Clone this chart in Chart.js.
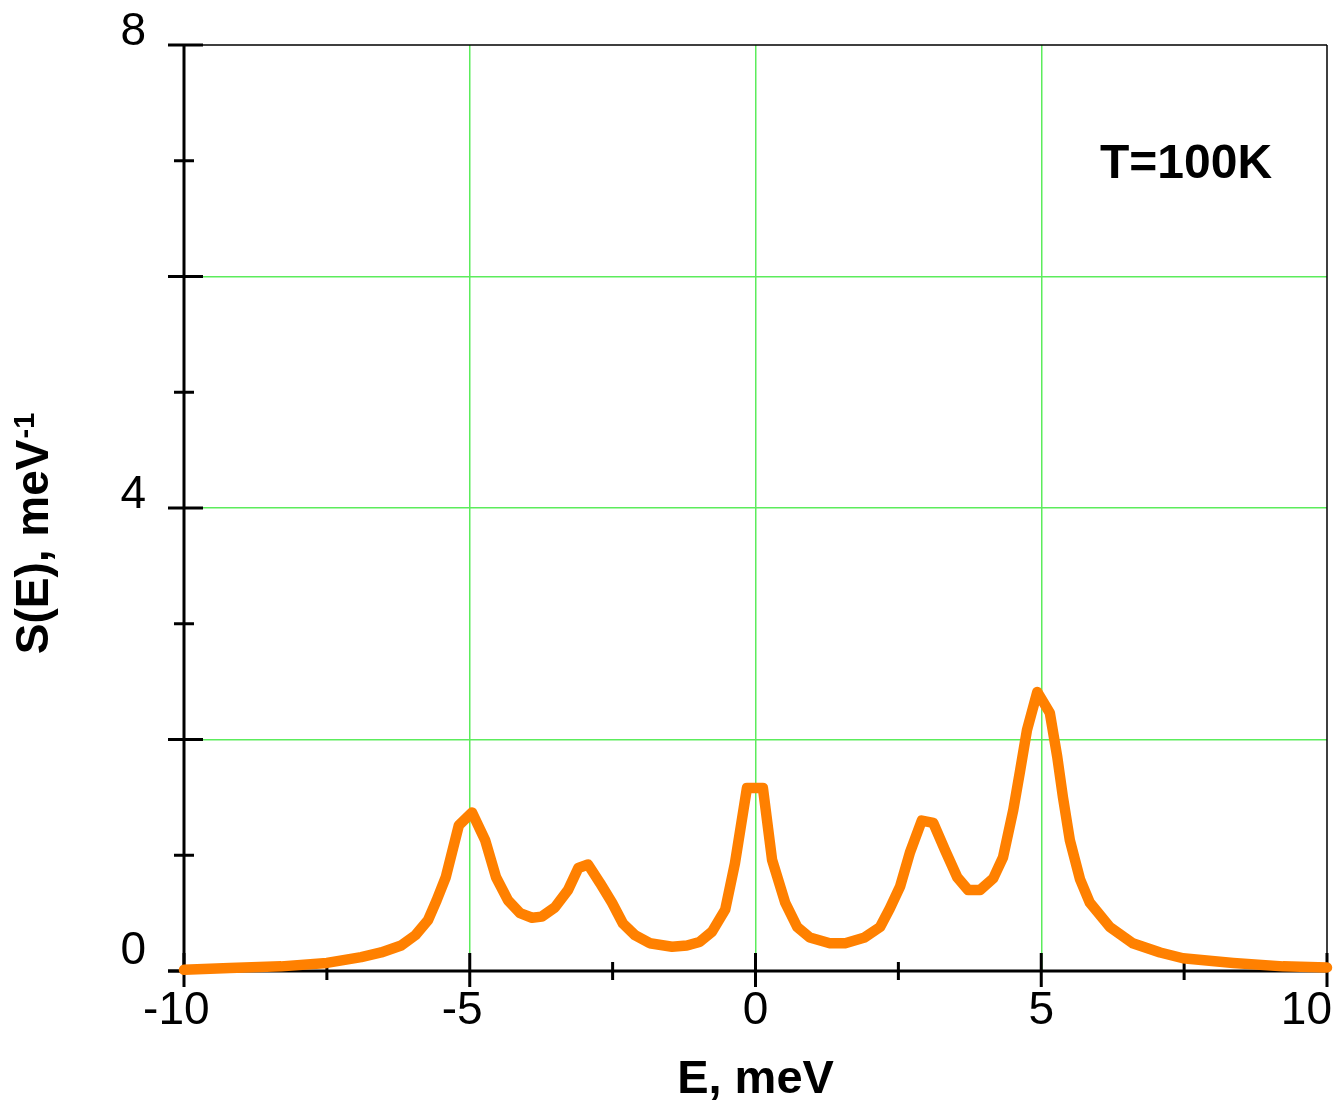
<!DOCTYPE html>
<html>
<head>
<meta charset="utf-8">
<script src="https://cdn.jsdelivr.net/npm/chart.js@4.4.0/dist/chart.umd.min.js"></script>
<style>
  html, body { margin: 0; background: #fff; }
  #wrap { width: 1334px; height: 1101px; position: relative; }
</style>
</head>
<body>
<div id="wrap"><canvas id="chart"></canvas></div>
<script>
// Spectrum S(E) at T=100K
const energy = [-10, -9.2, -8.3, -7.5, -6.9, -6.55, -6.2, -5.95, -5.73, -5.58, -5.42, -5.19, -4.96, -4.73, -4.54,
  -4.33, -4.12, -3.91, -3.74, -3.51, -3.28, -3.10, -2.93, -2.72, -2.51, -2.32, -2.11, -1.85, -1.46, -1.2,
  -0.98, -0.76, -0.53, -0.36, -0.15, 0.13, 0.29, 0.52, 0.73, 0.95, 1.30, 1.57, 1.91, 2.18, 2.35,
  2.53, 2.70, 2.91, 3.11, 3.32, 3.53, 3.72, 3.93, 4.16, 4.33, 4.51, 4.63, 4.75, 4.93, 5.15,
  5.28, 5.38, 5.50, 5.68, 5.85, 6.20, 6.60, 7.08, 7.48, 8.36, 9.23, 10];
const intensity = [0.01, 0.025, 0.04, 0.07, 0.12, 0.16, 0.22, 0.31, 0.44, 0.61, 0.81, 1.26, 1.37, 1.13, 0.81,
  0.61, 0.50, 0.46, 0.47, 0.55, 0.70, 0.89, 0.92, 0.76, 0.59, 0.41, 0.31, 0.24, 0.21, 0.22,
  0.25, 0.34, 0.53, 0.93, 1.58, 1.58, 0.96, 0.59, 0.38, 0.29, 0.24, 0.24, 0.29, 0.38, 0.54,
  0.73, 1.02, 1.30, 1.28, 1.04, 0.81, 0.70, 0.70, 0.80, 0.98, 1.39, 1.73, 2.08, 2.41, 2.23,
  1.85, 1.50, 1.13, 0.79, 0.59, 0.38, 0.24, 0.16, 0.11, 0.07, 0.04, 0.03];

// Axes
const xMajorTicks = [-10, -5, 0, 5, 10];
const xMinorTicks = [-7.5, -2.5, 2.5, 7.5];
const xTickLabels = [-10, -5, 0, 5, 10];
const xGridLines = [-5, 0, 5];
const yMajorTicks = [0, 2, 4, 6, 8];
const yMinorTicks = [1, 3, 5, 7];
const yTickLabels = [0, 4, 8];
const yGridLines = [2, 4, 6];

const FONT = 'Arial, "Liberation Sans", sans-serif';
const GRID = 'rgb(92, 236, 92)';

const points = energy.map((e, i) => ({ x: e, y: intensity[i] }));

// Axis lines, crossing ticks, labels and titles
const axesPlugin = {
  id: 'axesPlugin',
  beforeDatasetsDraw(chart) {
    const { ctx, chartArea: a, scales: { x, y } } = chart;
    ctx.save();
    ctx.strokeStyle = '#000';

    // thin frame top and right
    ctx.lineWidth = 1.5;
    ctx.beginPath();
    ctx.moveTo(a.left, a.top); ctx.lineTo(a.right, a.top);
    ctx.moveTo(a.right, a.top); ctx.lineTo(a.right, a.bottom);
    ctx.stroke();

    // main axes
    ctx.lineWidth = 3;
    ctx.beginPath();
    ctx.moveTo(a.left, a.top); ctx.lineTo(a.left, a.bottom);
    ctx.moveTo(a.left - 16, a.bottom); ctx.lineTo(a.right, a.bottom);
    ctx.stroke();

    // y ticks
    ctx.beginPath();
    yMajorTicks.forEach(v => {
      const py = y.getPixelForValue(v);
      ctx.moveTo(a.left - 16, py); ctx.lineTo(a.left + 19, py);
    });
    yMinorTicks.forEach(v => {
      const py = y.getPixelForValue(v);
      ctx.moveTo(a.left - 10, py); ctx.lineTo(a.left + 10, py);
    });
    // x ticks
    xMajorTicks.forEach(v => {
      const px = x.getPixelForValue(v);
      ctx.moveTo(px, a.bottom - 18); ctx.lineTo(px, a.bottom + 16);
    });
    xMinorTicks.forEach(v => {
      const px = x.getPixelForValue(v);
      ctx.moveTo(px, a.bottom - 9); ctx.lineTo(px, a.bottom + 9);
    });
    ctx.stroke();

    // tick labels
    ctx.fillStyle = '#000';
    ctx.font = '46px ' + FONT;
    ctx.textAlign = 'right';
    ctx.textBaseline = 'middle';
    yTickLabels.forEach(v => {
      ctx.fillText(String(v), a.left - 38, y.getPixelForValue(v) - (v === 0 ? 20 : 13));
    });

    ctx.textBaseline = 'alphabetic';
    const W = chart.width;
    xTickLabels.forEach(v => {
      const digits = String(Math.abs(v));
      const w = ctx.measureText(digits).width;
      let px = x.getPixelForValue(v);
      px = Math.min(px, W - w / 2 - 2);
      ctx.textAlign = 'center';
      ctx.fillText(digits, px, a.bottom + 53);
      if (v < 0) {
        ctx.textAlign = 'right';
        ctx.fillText('-', px - w / 2, a.bottom + 53);
      }
    });

    // axis titles
    ctx.font = 'bold 47px ' + FONT;
    ctx.textAlign = 'center';
    ctx.fillText('E, meV', (a.left + a.right) / 2, 1093);

    ctx.save();
    ctx.translate(48, 534);
    ctx.rotate(-Math.PI / 2);
    ctx.font = 'bold 46px ' + FONT;
    const main = 'S(E), meV';
    const sup = '-1';
    const mw = ctx.measureText(main).width;
    ctx.font = 'bold 29px ' + FONT;
    const sw = ctx.measureText(sup).width;
    const start = -(mw + sw) / 2;
    ctx.textAlign = 'left';
    ctx.font = 'bold 46px ' + FONT;
    ctx.fillText(main, start, 0);
    ctx.font = 'bold 29px ' + FONT;
    ctx.fillText(sup, start + mw + 1, -14);
    ctx.restore();

    // temperature note
    ctx.font = 'bold 48px ' + FONT;
    ctx.textAlign = 'left';
    ctx.fillText('T=100K', a.right - 227, a.top + 133);

    ctx.restore();
  }
};

new Chart(document.getElementById('chart'), {
  type: 'line',
  data: {
    datasets: [{
      data: points,
      borderColor: '#ff8000',
      borderWidth: 10.5,
      pointRadius: 0,
      tension: 0,
      fill: false,
      borderCapStyle: 'round',
      borderJoinStyle: 'round',
      clip: false
    }]
  },
  options: {
    responsive: true,
    maintainAspectRatio: false,
    animation: false,
    layout: { padding: { left: 184, top: 45, right: 7, bottom: 130 } },
    plugins: { legend: { display: false }, tooltip: { enabled: false } },
    scales: {
      x: {
        type: 'linear', min: -10, max: 10,
        ticks: { display: false, stepSize: 2.5 },
        grid: {
          drawTicks: false,
          lineWidth: 1.5,
          color: c => xGridLines.includes(c.tick.value) ? GRID : 'transparent'
        },
        border: { display: false },
        afterFit: s => { s.height = 0; }
      },
      y: {
        min: 0, max: 8,
        ticks: { display: false, stepSize: 1 },
        grid: {
          drawTicks: false,
          lineWidth: 1.5,
          color: c => yGridLines.includes(c.tick.value) ? GRID : 'transparent'
        },
        border: { display: false },
        afterFit: s => { s.width = 0; }
      }
    }
  },
  plugins: [axesPlugin]
});
</script>
</body>
</html>
